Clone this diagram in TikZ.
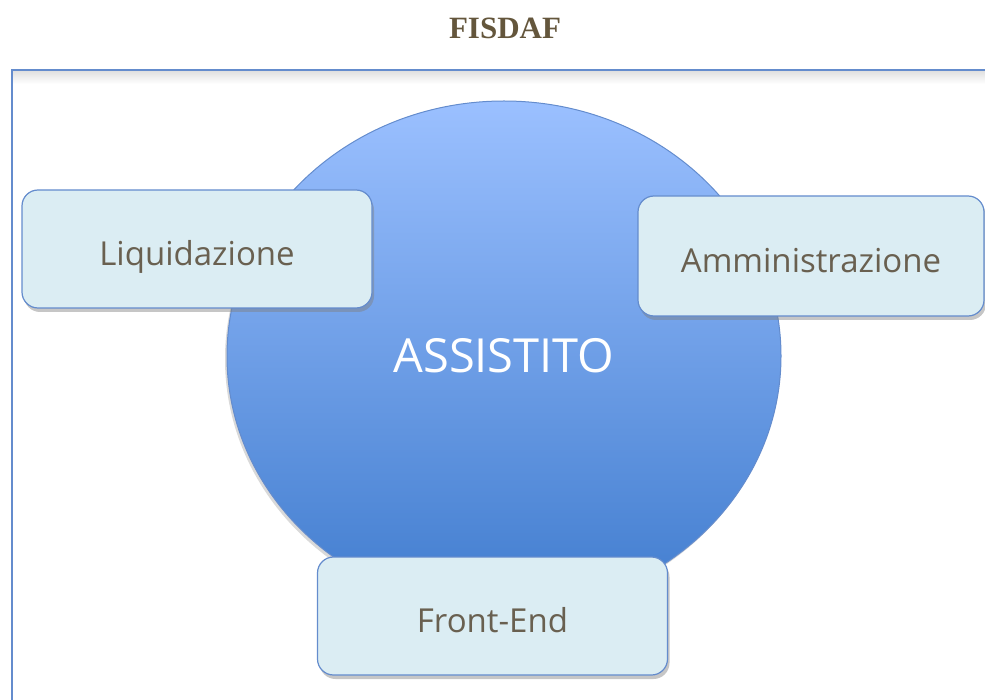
\documentclass[tikz,border=0pt]{standalone}
\usepackage{fontspec}
\setmainfont{Open Sans}
\newfontfamily\titlefont{Liberation Serif}
\usetikzlibrary{shapes.geometric,shadows}
\definecolor{testo}{RGB}{105,96,80}
\definecolor{bordo}{RGB}{100,140,205}
\definecolor{riempi}{RGB}{219,237,243}
\definecolor{cieloalto}{RGB}{155,192,255}
\definecolor{cielobasso}{RGB}{64,124,206}
\definecolor{titolo}{RGB}{100,86,60}
\begin{document}
\begin{tikzpicture}[x=1pt,y=-1pt]
        \tikzset{modulo/.style={draw=bordo, line width=1.2pt, fill=riempi, rounded corners=16pt,
            minimum width=350pt, minimum height=118pt, inner sep=0pt, text=testo,
            text height=33pt, text depth=0pt,
            font=\fontsize{33}{33}\selectfont,
            drop shadow={opacity=0.45, shadow xshift=2pt, shadow yshift=-4pt}}}
        \useasboundingbox (0,0) rectangle (985,700);
        \node[font=\titlefont\bfseries\fontsize{31}{31}\selectfont, text=titolo] (titolo) at (505,28) {FISDAF};
        % cornice
        \shade[top color=black!12, bottom color=white] (13,71) rectangle (990,84);
        \draw[bordo, line width=1.5pt] (12,70) rectangle (1000,720);
        % cerchio centrale
        \node[ellipse, draw=bordo, line width=1pt, top color=cieloalto, bottom color=cielobasso,
            minimum width=554pt, minimum height=510pt, inner sep=0pt, text=white,
            font=\fontsize{47}{47}\selectfont,
            drop shadow={opacity=0.3, shadow xshift=-2pt, shadow yshift=-3pt}] (assistito) at (504,356) {ASSISTITO};
        % moduli
        \node[modulo] (liquidazione) at (197,249) {Liquidazione};
        \node[modulo, minimum width=346pt, minimum height=120pt] (amministrazione) at (811,256) {Amministrazione};
        \node[modulo] (frontend) at (492.5,616) {Front-End};
\end{tikzpicture}
\end{document}
